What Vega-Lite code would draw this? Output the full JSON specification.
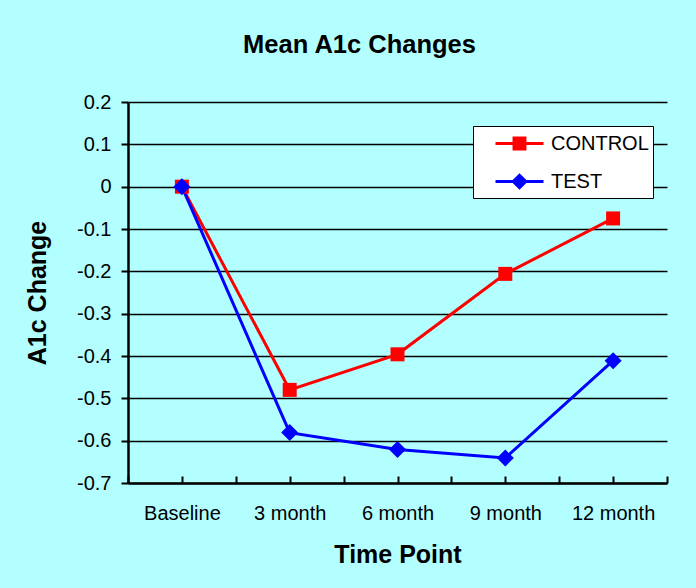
{
  "$schema": "https://vega.github.io/schema/vega-lite/v6.json",
  "width": 539,
  "height": 381,
  "autosize": {"type": "none"},
  "padding": {"left": 128, "top": 102, "right": 29, "bottom": 105},
  "background": "#B3FFFF",
  "title": {
    "text": "Mean A1c Changes",
    "font": "Liberation Sans",
    "fontSize": 25.5,
    "fontWeight": "bold",
    "color": "#000000",
    "anchor": "middle",
    "dx": -38,
    "baseline": "alphabetic",
    "offset": 14
  },
  "config": {
    "view": {"stroke": null},
    "font": "Liberation Sans"
  },
  "data": {
    "values": [
      {"time": "Baseline", "t": 0, "group": "CONTROL", "change": 0.0},
      {"time": "3 month", "t": 1, "group": "CONTROL", "change": -0.48},
      {"time": "6 month", "t": 2, "group": "CONTROL", "change": -0.396},
      {"time": "9 month", "t": 3, "group": "CONTROL", "change": -0.206},
      {"time": "12 month", "t": 4, "group": "CONTROL", "change": -0.075},
      {"time": "Baseline", "t": 0, "group": "TEST", "change": 0.0},
      {"time": "3 month", "t": 1, "group": "TEST", "change": -0.581},
      {"time": "6 month", "t": 2, "group": "TEST", "change": -0.621},
      {"time": "9 month", "t": 3, "group": "TEST", "change": -0.641},
      {"time": "12 month", "t": 4, "group": "TEST", "change": -0.411}
    ]
  },
  "encoding": {
    "x": {
      "field": "t",
      "type": "quantitative",
      "scale": {"domain": [-0.5, 4.5], "nice": false, "zero": false},
      "axis": {
        "title": "Time Point",
        "titleFont": "Liberation Sans",
        "titleFontSize": 25,
        "titleFontWeight": "bold",
        "titleColor": "#000000",
        "titlePadding": 19,
        "values": [-0.5, 0, 0.5, 1, 1.5, 2, 2.5, 3, 3.5, 4, 4.5],
        "labelExpr": "datum.value % 1 === 0 ? ['Baseline','3 month','6 month','9 month','12 month'][datum.value] : ''",
        "labelFont": "Liberation Sans",
        "labelFontSize": 20,
        "labelColor": "#000000",
        "labelPadding": 27,
        "labelOverlap": false,
        "labelFlush": false,
        "grid": false,
        "domainColor": "#000000",
        "domainWidth": 2.5,
        "tickColor": "#000000",
        "tickWidth": 2,
        "tickSize": -7
      }
    },
    "y": {
      "field": "change",
      "type": "quantitative",
      "scale": {"domain": [-0.7, 0.2], "nice": false, "zero": false},
      "axis": {
        "title": "A1c Change",
        "titleFont": "Liberation Sans",
        "titleFontSize": 25,
        "titleFontWeight": "bold",
        "titleColor": "#000000",
        "titlePadding": 26,
        "values": [-0.7, -0.6, -0.5, -0.4, -0.3, -0.2, -0.1, 0, 0.1, 0.2],
        "labelExpr": "toString(round(datum.value * 10) / 10)",
        "labelFont": "Liberation Sans",
        "labelFontSize": 20,
        "labelColor": "#000000",
        "labelPadding": 10,
        "grid": true,
        "gridColor": "#000000",
        "gridWidth": 1.6,
        "gridOpacity": 1,
        "domainColor": "#000000",
        "domainWidth": 2.5,
        "tickColor": "#000000",
        "tickWidth": 2,
        "tickSize": 7
      }
    },
    "color": {
      "field": "group",
      "type": "nominal",
      "scale": {"domain": ["CONTROL", "TEST"], "range": ["#FF0000", "#0000FF"]},
      "legend": {
        "title": null,
        "orient": "none",
        "legendX": 345,
        "legendY": 24,
        "fillColor": "#FFFFFF",
        "strokeColor": "#000000",
        "padding": 4,
        "rowPadding": 12,
        "symbolSize": 576,
        "symbolStrokeWidth": 3,
        "symbolOpacity": 1,
        "symbolOffset": 29,
        "labelOffset": 18,
        "labelFont": "Liberation Sans",
        "labelFontSize": 20,
        "labelColor": "#000000"
      }
    }
  },
  "layer": [
    {
      "mark": {"type": "line", "strokeWidth": 3}
    },
    {
      "mark": {"type": "point", "filled": false, "opacity": 0, "strokeWidth": 3},
      "encoding": {
        "shape": {
          "field": "group",
          "type": "nominal",
          "scale": {"domain": ["CONTROL", "TEST"], "range": ["M-2,0H2M-0.58,-0.46H0.58M-0.58,-0.23H0.58M-0.58,0.23H0.58M-0.58,0.46H0.58", "M-2,0H2M0,-0.52L0.52,0L0,0.52L-0.52,0ZM0,-0.32L0.32,0L0,0.32L-0.32,0ZM0,-0.12L0.12,0L0,0.12L-0.12,0Z"]},
          "legend": null
        }
      }
    },
    {
      "transform": [{"filter": "datum.group === 'CONTROL'"}],
      "mark": {"type": "point", "filled": true, "opacity": 1, "strokeWidth": 0, "shape": "square", "size": 196, "fill": "#FF0000"}
    },
    {
      "transform": [{"filter": "datum.group === 'TEST'"}],
      "mark": {"type": "point", "filled": true, "opacity": 1, "strokeWidth": 0, "shape": "diamond", "size": 289, "fill": "#0000FF"}
    }
  ]
}
